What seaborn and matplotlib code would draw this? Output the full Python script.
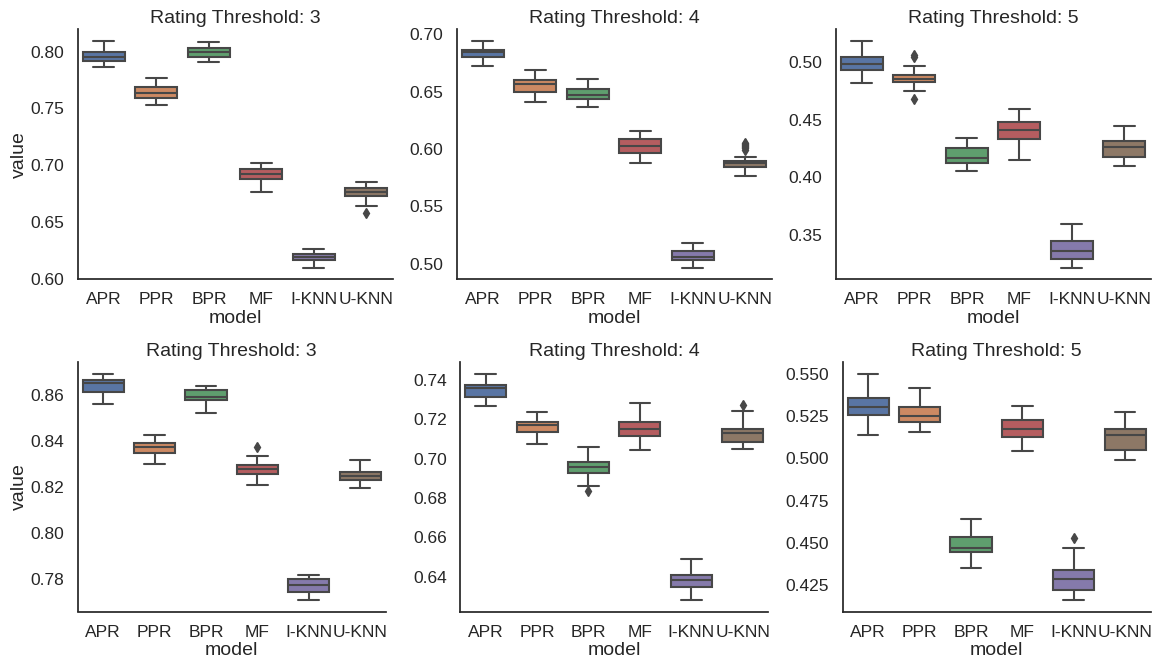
import matplotlib
matplotlib.use("Agg")
import matplotlib.pyplot as plt
import numpy as np
import pandas as pd
import seaborn as sns

models = ["APR", "PPR", "BPR", "MF", "I-KNN", "U-KNN"]
thresholds = [3, 4, 5]
metrics = ["top", "bottom"]

# Box statistics per panel, one value per model:
# rows = [whisker low, Q1, median, Q3, whisker high]
top_t3 = [
    [0.7868, 0.7527, 0.7909, 0.6763, 0.6095, 0.6642],
    [0.7918, 0.7589, 0.7956, 0.6877, 0.6163, 0.6727],
    [0.7956, 0.7638, 0.8000, 0.6924, 0.6192, 0.6763],
    [0.7995, 0.7691, 0.8035, 0.6966, 0.6222, 0.6795],
    [0.8097, 0.7768, 0.8088, 0.7016, 0.6266, 0.6851],
]
top_t3_outliers = {"U-KNN": [0.6575]}

top_t4 = [
    [0.6726, 0.6406, 0.6363, 0.5874, 0.4963, 0.5760],
    [0.6804, 0.6499, 0.6435, 0.5961, 0.5030, 0.5839],
    [0.6843, 0.6563, 0.6470, 0.6022, 0.5058, 0.5874],
    [0.6863, 0.6604, 0.6525, 0.6089, 0.5111, 0.5897],
    [0.6944, 0.6691, 0.6612, 0.6156, 0.5181, 0.5926],
]
top_t4_outliers = {"U-KNN": [0.5995, 0.6005, 0.6015, 0.6025, 0.6035, 0.6045, 0.6055]}

top_t5 = [
    [0.4819, 0.4752, 0.4049, 0.4145, 0.3209, 0.4093],
    [0.4930, 0.4828, 0.4125, 0.4331, 0.3290, 0.4178],
    [0.4983, 0.4857, 0.4166, 0.4410, 0.3354, 0.4259],
    [0.5044, 0.4887, 0.4250, 0.4484, 0.3441, 0.4311],
    [0.5188, 0.4970, 0.4343, 0.4592, 0.3589, 0.4444],
]
top_t5_outliers = {"PPR": [0.4680, 0.5045, 0.5062]}

bottom_t3 = [
    [0.8562, 0.8300, 0.8521, 0.8207, 0.7708, 0.8197],
    [0.8615, 0.8347, 0.8578, 0.8258, 0.7743, 0.8229],
    [0.8654, 0.8374, 0.8593, 0.8278, 0.7775, 0.8248],
    [0.8666, 0.8390, 0.8622, 0.8297, 0.7798, 0.8266],
    [0.8693, 0.8428, 0.8641, 0.8337, 0.7818, 0.8318],
]
bottom_t3_outliers = {"MF": [0.8374]}

bottom_t4 = [
    [0.7269, 0.7076, 0.6859, 0.7046, 0.6281, 0.7048],
    [0.7315, 0.7134, 0.6927, 0.7117, 0.6346, 0.7083],
    [0.7358, 0.7171, 0.6958, 0.7151, 0.6383, 0.7132],
    [0.7375, 0.7188, 0.6981, 0.7188, 0.6408, 0.7152],
    [0.7432, 0.7237, 0.7057, 0.7281, 0.6490, 0.7241],
]
bottom_t4_outliers = {"BPR": [0.6835], "U-KNN": [0.7273]}

bottom_t5 = [
    [0.5138, 0.5156, 0.4354, 0.5042, 0.4163, 0.4990],
    [0.5254, 0.5215, 0.4447, 0.5124, 0.4224, 0.5049],
    [0.5303, 0.5248, 0.4472, 0.5173, 0.4287, 0.5140],
    [0.5356, 0.5305, 0.4536, 0.5225, 0.4339, 0.5175],
    [0.5500, 0.5416, 0.4644, 0.5307, 0.4472, 0.5274],
]
bottom_t5_outliers = {"I-KNN": [0.4530]}

panels = {
    ("top", 3): (top_t3, top_t3_outliers),
    ("top", 4): (top_t4, top_t4_outliers),
    ("top", 5): (top_t5, top_t5_outliers),
    ("bottom", 3): (bottom_t3, bottom_t3_outliers),
    ("bottom", 4): (bottom_t4, bottom_t4_outliers),
    ("bottom", 5): (bottom_t5, bottom_t5_outliers),
}

# Build a long-form sample that reproduces each box's statistics exactly
records = []
REP = 20
for (metric, thr), (stats, outl) in panels.items():
    for i, m in enumerate(models):
        lo, q1, med, q3, hi = (stats[k][i] for k in range(5))
        vals = [lo] + [q1] * REP + [med] * REP + [q3] * REP + [hi] + outl.get(m, [])
        for v in vals:
            records.append({"metric": metric, "threshold": thr, "model": m, "value": v})
df = pd.DataFrame(records)

sns.set_theme(style="white", context="notebook")
plt.rcParams["font.family"] = ["Liberation Sans", "DejaVu Sans"]

LINE = "#474747"
g = sns.catplot(
    data=df, x="model", y="value", hue="model",
    col="threshold", row="metric", kind="box",
    order=models, hue_order=models, palette="deep",
    row_order=metrics, col_order=thresholds,
    sharex=False, sharey=False, legend=False,
    linewidth=1.5, linecolor=LINE, fliersize=5,
    flierprops={"marker": "d", "markerfacecolor": LINE, "markeredgecolor": LINE},
    height=3, aspect=1.2,
)
g.set_titles("Rating Threshold: {col_name}", size=14, pad=4.5)

fig = g.figure
fig.set_size_inches(11.55, 6.58)
W, H = 1155.0, 658.0
top_row = dict(lefts=[77.7, 456.7, 835.7], width=315.0, top=29.3, bottom=279.3)
bot_row = dict(lefts=[77.5, 460.0, 842.5], width=308.3, top=362.3, bottom=611.5)

for r, spec in enumerate([top_row, bot_row]):
    for c in range(3):
        ax = g.axes[r, c]
        l = spec["lefts"][c]
        ax.set_position([l / W, 1 - spec["bottom"] / H, spec["width"] / W,
                         (spec["bottom"] - spec["top"]) / H])
        ax.set_xlabel("model", fontsize=14, labelpad=1.5)
        ax.set_ylabel("value" if c == 0 else "", fontsize=14, labelpad=2)
        ax.tick_params(axis="both", labelsize=12.5)
        sns.despine(ax=ax)

fig.savefig("out.png", dpi=100)
